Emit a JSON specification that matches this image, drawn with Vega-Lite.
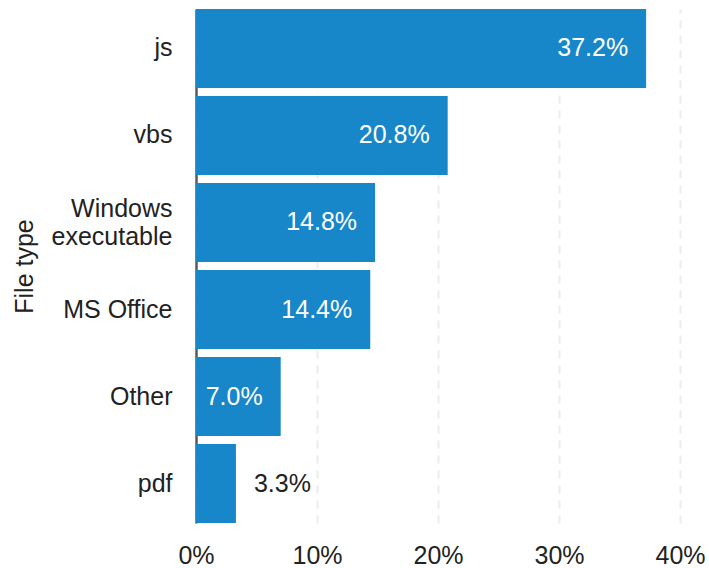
{
  "$schema": "https://vega.github.io/schema/vega-lite/v6.json",
  "width": 484,
  "height": 514,
  "autosize": {"type": "none"},
  "padding": {"left": 196, "top": 9, "right": 29, "bottom": 45},
  "background": "white",
  "config": {
    "view": {"stroke": null},
    "font": "Liberation Sans"
  },
  "data": {
    "values": [
      {"type": "js", "pct": 0.372},
      {"type": "vbs", "pct": 0.208},
      {"type": "Windows executable", "pct": 0.148},
      {"type": "MS Office", "pct": 0.144},
      {"type": "Other", "pct": 0.070},
      {"type": "pdf", "pct": 0.033}
    ]
  },
  "encoding": {
    "y": {
      "field": "type",
      "type": "nominal",
      "sort": null,
      "scale": {"paddingInner": 0.092, "paddingOuter": 0},
      "axis": {
        "title": "File type",
        "titleFontSize": 25,
        "titleFontWeight": "normal",
        "titleColor": "#222",
        "titlePadding": 14,
        "labelFontSize": 25,
        "labelColor": "#222",
        "labelPadding": 24,
        "labelLineHeight": 28,
        "labelOffset": {"condition": {"test": "datum.value == 'Windows executable'", "value": -13}, "value": 0},
        "labelExpr": "datum.value == 'Windows executable' ? ['Windows', 'executable'] : datum.label",
        "ticks": false,
        "domainColor": "#5a5a5a",
        "domainWidth": 2.5,
        "grid": false
      }
    },
    "x": {
      "field": "pct",
      "type": "quantitative",
      "scale": {"domain": [0, 0.4], "nice": false},
      "axis": {
        "title": null,
        "format": ".0%",
        "values": [0, 0.1, 0.2, 0.3, 0.4],
        "labelFontSize": 25,
        "labelColor": "#222",
        "labelPadding": 20,
        "labelFlush": false,
        "ticks": false,
        "domain": false,
        "grid": true,
        "gridColor": "#ececec",
        "gridWidth": 2,
        "gridDash": [8, 7]
      }
    }
  },
  "layer": [
    {"mark": {"type": "bar", "color": "#1787c9"}},
    {
      "transform": [{"filter": "datum.pct >= 0.05"}],
      "mark": {"type": "text", "align": "right", "dx": -18, "fontSize": 25, "color": "white"},
      "encoding": {"text": {"field": "pct", "type": "quantitative", "format": ".1%"}}
    },
    {
      "transform": [{"filter": "datum.pct < 0.05"}],
      "mark": {"type": "text", "align": "left", "dx": 18, "fontSize": 25, "color": "#222"},
      "encoding": {"text": {"field": "pct", "type": "quantitative", "format": ".1%"}}
    }
  ]
}
